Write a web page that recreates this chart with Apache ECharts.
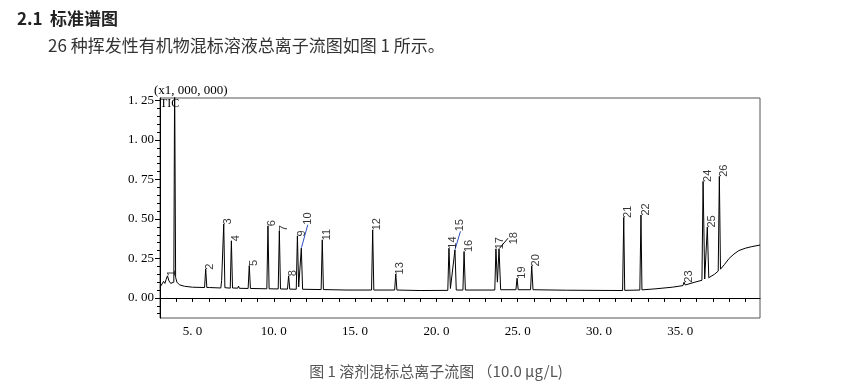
<!DOCTYPE html>
<html><head><meta charset="utf-8">
<script src="https://cdn.jsdelivr.net/npm/echarts@6/dist/echarts.min.js"></script>
<style>html,body{margin:0;padding:0;background:#fff;} #c{width:861px;height:391px;}</style>
</head><body><div id="c"></div>
<script>
// Total ion chromatogram trace (retention time in min, intensity in x1,000,000)
const traceTime = [3.00,3.12,3.22,3.30,3.38,3.46,3.55,3.66,3.78,3.85,3.90,3.96,4.04,4.20,4.50,5.00,
  5.74,5.81,5.88,6.04,6.09,6.15,6.74,6.79,6.85,6.92,6.99,7.32,7.39,7.46,7.78,7.83,7.88,8.42,8.49,8.56,
  9.57,9.64,9.71,10.27,10.34,10.41,10.84,10.91,10.98,11.38,11.45,11.53,11.69,11.77,12.91,12.98,13.05,
  14.50,16.01,16.08,16.15,17.43,17.50,17.57,19.00,20.70,20.77,20.86,21.14,21.22,21.63,21.70,21.78,
  23.59,23.66,23.75,23.85,23.95,24.89,24.96,25.03,25.79,25.86,25.94,28.00,31.45,31.52,31.58,
  32.51,32.58,32.64,33.50,34.50,35.16,35.23,35.30,35.90,36.33,36.40,36.50,36.66,36.75,37.10,37.33,
  37.40,37.47,37.70,38.00,38.30,38.60,39.00,39.40,39.90];
const traceValue = [0.068,0.076,0.105,0.092,0.118,0.140,0.108,0.092,0.086,0.100,1.400,0.130,0.100,0.083,0.074,0.068,
  0.066,0.182,0.066,0.066,0.078,0.064,0.063,0.110,0.100,0.468,0.065,0.062,0.362,0.063,0.062,0.075,0.061,0.060,0.205,0.060,
  0.058,0.457,0.058,0.057,0.425,0.057,0.056,0.140,0.056,0.055,0.393,0.070,0.315,0.055,0.053,0.368,0.053,
  0.050,0.050,0.431,0.050,0.050,0.152,0.050,0.047,0.048,0.315,0.060,0.305,0.050,0.050,0.294,0.050,
  0.050,0.311,0.100,0.311,0.052,0.052,0.125,0.052,0.052,0.203,0.052,0.049,0.047,0.510,0.048,
  0.050,0.525,0.051,0.058,0.068,0.078,0.100,0.082,0.100,0.112,0.738,0.120,0.449,0.128,0.150,0.170,
  0.770,0.182,0.210,0.250,0.278,0.300,0.315,0.325,0.335];

// Peak numbers and apex positions
const peakNames = ['1','2','3','4','5','6','7','8','9','10','11','12','13','14','15','16','17','18','19','20','21','22','23','24','25','26'];
const peakTime = [3.46,5.81,6.92,7.39,8.49,9.64,10.34,10.91,11.45,11.69,12.98,16.08,17.50,20.77,21.14,21.70,23.66,23.85,24.96,25.86,31.52,32.58,35.23,36.40,36.66,37.40];
const peakHeight = [0.140,0.182,0.468,0.362,0.205,0.457,0.425,0.140,0.393,0.315,0.368,0.431,0.152,0.315,0.305,0.294,0.311,0.311,0.125,0.203,0.510,0.525,0.100,0.738,0.449,0.770];

// Axis ticks
const xLabelValues = [5,10,15,20,25,30,35];
const xTickValues = [4,5,6,7,8,9,10,11,12,13,14,15,16,17,18,19,20,21,22,23,24,25,26,27,28,29,30,31,32,33,34,35,36,37,38,39];
const yLabelValues = [0,0.25,0.5,0.75,1.0,1.25];
const yMinorTicks = [-0.1,-0.05,0,0.05,0.1,0.15,0.2,0.25,0.3,0.35,0.4,0.45,0.5,0.55,0.6,0.65,0.7,0.75,0.8,0.85,0.9,0.95,1.0,1.05,1.1,1.15,1.2,1.25];

const serif = '"Liberation Serif","DejaVu Serif",serif';
const cjk = '"Noto Sans CJK SC","Noto Sans",sans-serif';
// screen shift of moved labels (sx right, sy down) and leader colour
const leaderMoves = { '10': {sx: 2, sy: -24, color: '#2a50c0'}, '15': {sx: 1, sy: -19, color: '#2a50c0'}, '18': {sx: 10, sy: -5, color: '#000'} };

const chart = echarts.init(document.getElementById('c'), null, {renderer: 'canvas'});
const yMin = -0.127, yMax = 1.266;
chart.setOption({
  animation: false,
  backgroundColor: '#fff',
  graphic: [
    {type: 'text', left: 17, top: 10, style: {text: '2.1', font: 'bold 17px ' + cjk, fill: '#222'}},
    {type: 'text', left: 50, top: 10, style: {text: '标准谱图', font: 'bold 17px ' + cjk, fill: '#222'}},
    {type: 'text', left: 48, top: 37, style: {text: '26 种挥发性有机物混标溶液总离子流图如图 1 所示。', font: '17px ' + cjk, fill: '#333'}},
    {type: 'text', left: 154, top: 84, style: {text: '(x1, 000, 000)', font: '13px ' + serif, fill: '#000'}},
    {type: 'text', left: 160, top: 98, style: {text: 'TIC', font: '12px ' + serif, fill: '#000'}},
    {type: 'text', x: 436, y: 371, style: {text: '图 1 溶剂混标总离子流图 （10.0 μg/L)', font: '15px ' + cjk, fill: '#555', textAlign: 'center', textVerticalAlign: 'middle'}}
  ],
  grid: {left: 160, right: 101, top: 98, bottom: 73, show: true, borderColor: '#555', borderWidth: 1, backgroundColor: 'transparent'},
  xAxis: {
    type: 'value', min: 3.0, max: 39.9,
    axisLine: {show: true, lineStyle: {color: '#000', width: 1}},
    axisTick: {show: true, customValues: xTickValues, length: 4, lineStyle: {color: '#000'}},
    axisLabel: {customValues: xLabelValues, formatter: v => v.toFixed(1).replace('.', '. '), fontFamily: serif, fontSize: 13, color: '#000', margin: 7},
    splitLine: {show: false}
  },
  yAxis: [
    {
      type: 'value', min: yMin, max: yMax,
      axisLine: {show: true, lineStyle: {color: '#000', width: 1}},
      axisTick: {show: true, customValues: yLabelValues, length: 5, lineStyle: {color: '#000'}},
      axisLabel: {customValues: yLabelValues, formatter: v => v.toFixed(2).replace('.', '. '), fontFamily: serif, fontSize: 13, color: '#000', margin: 6},
      splitLine: {show: false}
    },
    {
      type: 'value', min: yMin, max: yMax, position: 'left',
      axisLine: {show: false},
      axisTick: {show: true, customValues: yMinorTicks, length: 3, lineStyle: {color: '#000'}},
      axisLabel: {show: false},
      splitLine: {show: false}
    }
  ],
  series: [
    {
      type: 'line', data: traceTime.map((t, i) => [t, traceValue[i]]),
      showSymbol: false, symbol: 'none', clip: true, silent: true,
      lineStyle: {color: '#000', width: 1}
    },
    {
      type: 'scatter', symbolSize: 1, silent: true,
      itemStyle: {color: 'rgba(0,0,0,0)'},
      data: peakNames.map((n, i) => {
        const item = {name: n, value: [peakTime[i], peakHeight[i]]};
        if (leaderMoves[n]) item.labelLine = {show: true, lineStyle: {color: leaderMoves[n].color, width: 1}};
        return item;
      }),
      label: {show: true, formatter: '{b}', rotate: 90, position: [5, 1], align: 'left', verticalAlign: 'middle',
        fontFamily: '"Liberation Sans",Arial,sans-serif', fontSize: 11, color: '#000'},
      labelLayout: p => {
        const m = leaderMoves[peakNames[p.dataIndex]];
        // label offsets act in the rotated label frame
        return m ? {dx: -m.sy, dy: m.sx} : {};
      }
    }
  ]
});
</script></body></html>
